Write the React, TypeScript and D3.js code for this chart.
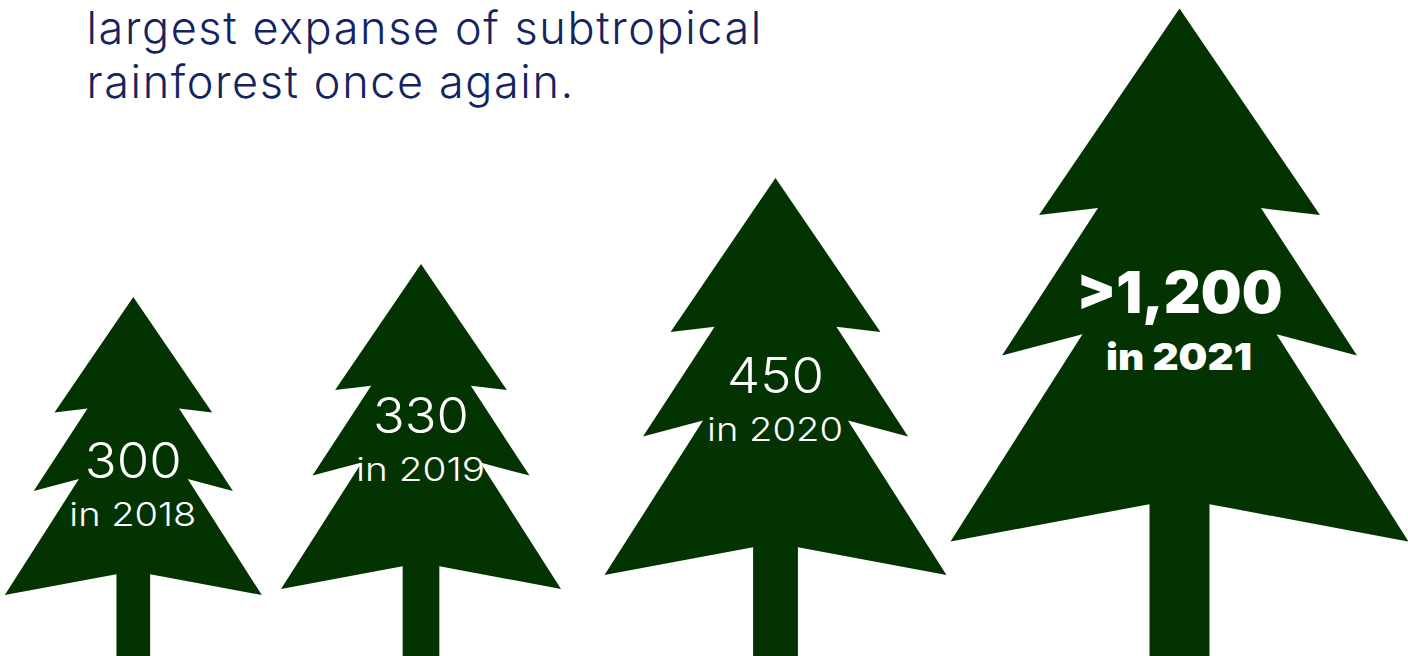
import React from "react";
import * as d3 from "d3";

// Rainforest tree counts by year
const years = [2018, 2019, 2020, 2021];
const treeCounts = [300, 330, 450, 1200];
const countLabels = ["300", "330", "450", ">1,200"];
const headingLines = ["largest expanse of subtropical", "rainforest once again."];

const WIDTH = 1408;
const HEIGHT = 656;
const INK = "#14245f";
const FOREST = "#033301";

// Half of a fir silhouette: offset from the trunk axis, height from apex to lowest boughs.
const crownOutline: [number, number][] = [
  [0, 0],
  [0.6135, 0.3876],
  [0.356, 0.3745],
  [0.775, 0.651],
  [0.4236, 0.611],
  [1, 1],
  [0.131, 0.93],
];

// Tree size grows with the count, but not proportionally: the sizes are pictorial.
const crownHeight = d3.scaleLinear().domain(treeCounts).range([298, 325, 397, 533]);
const crownWidth = d3.scaleLinear().domain(treeCounts).range([257, 280, 342, 458]);
const trunkAxis = d3.scaleOrdinal<number, number>().domain(years).range([133.3, 421, 775.5, 1179.5]);
const boughLine = d3.scaleOrdinal<number, number>().domain(years).range([595, 589, 575, 541.5]);

const numberBaseline = d3.scaleOrdinal<number, number>().domain(years).range([478, 433, 393, 313]);
const yearBaseline = d3.scaleOrdinal<number, number>().domain(years).range([526, 481, 441, 370]);
const numberFit = d3.scaleOrdinal<number, number>().domain(years).range([97, 96, 97, 206]);
const yearFit = d3.scaleOrdinal<number, number>().domain(years).range([127, 129, 136, 146]);

const outlinePath = d3.line<[number, number]>();

function treePath(year: number, count: number): string {
  const cx = trunkAxis(year);
  const base = boughLine(year);
  const h = crownHeight(count);
  const half = crownWidth(count) / 2;
  const x = d3.scaleLinear().domain([-1, 1]).range([cx - half, cx + half]);
  const y = d3.scaleLinear().domain([0, 1]).range([base - h, base]);
  const right = crownOutline.map(([dx, dy]): [number, number] => [x(dx), y(dy)]);
  const left = crownOutline
    .slice(1)
    .reverse()
    .map(([dx, dy]): [number, number] => [x(-dx), y(dy)]);
  const foot = crownOutline[crownOutline.length - 1][0];
  const trunk: [number, number][] = [
    [x(foot), HEIGHT],
    [x(-foot), HEIGHT],
  ];
  return outlinePath([...right, ...trunk, ...left]) + "Z";
}

export default function App() {
  return (
    <svg
      width={WIDTH}
      height={HEIGHT}
      viewBox={`0 0 ${WIDTH} ${HEIGHT}`}
      style={{ position: "absolute", left: 0, top: 0, display: "block", background: "#fff" }}
      fontFamily="Inter, 'Noto Sans', sans-serif"
    >
      {headingLines.map((line, i) => (
        <text
          key={line}
          x={86.5}
          y={44 + i * 54}
          fill={INK}
          fontSize={45}
          fontWeight={300}
          letterSpacing={1.6}
        >
          {line}
        </text>
      ))}
      {years.map((year, i) => {
        const isLatest = i === years.length - 1;
        const cx = trunkAxis(year);
        return (
          <g key={year}>
            <path d={treePath(year, treeCounts[i])} fill={FOREST} />
            <text
              x={cx}
              y={numberBaseline(year)}
              fill="#fff"
              textAnchor="middle"
              fontSize={isLatest ? 58 : 49}
              fontWeight={isLatest ? 900 : 300}
              textLength={numberFit(year)}
              lengthAdjust="spacingAndGlyphs"
            >
              {countLabels[i]}
            </text>
            <text
              x={cx - 0.5}
              y={yearBaseline(year)}
              fill="#fff"
              textAnchor="middle"
              fontSize={isLatest ? 37 : 33}
              fontWeight={isLatest ? 900 : 300}
              textLength={yearFit(year)}
              lengthAdjust="spacingAndGlyphs"
            >
              {`in ${year}`}
            </text>
          </g>
        );
      })}
    </svg>
  );
}
